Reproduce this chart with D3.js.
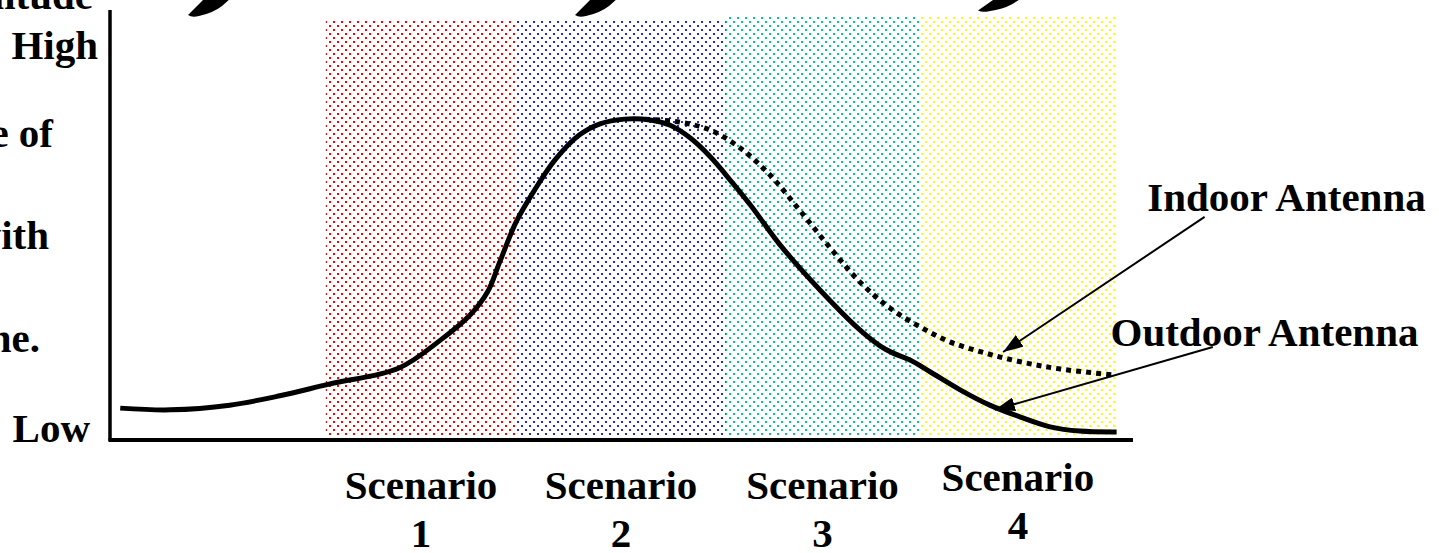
<!DOCTYPE html>
<meta charset="utf-8">
<style>
body { margin: 0; background: #fff; }
svg { display: block; }
text {
  font-family: "Times New Roman", "Liberation Serif", serif;
  font-weight: bold;
  font-size: 41px;
  fill: #000;
}
</style>
<body>
<svg width="1439" height="553"></svg>
</body>
<script src="https://cdn.jsdelivr.net/npm/d3@7"></script>
<script>

// scenario bands (time units 0..100, level 0..100)
var scenarios = ["1", "2", "3", "4"];
var bandStart = [21.1, 39.7, 60.2, 79.1];
var bandEnd = [39.7, 60.2, 79.1, 98.4];
var bandTop = [98.8, 98.8, 99.8, 100];
var bandColor = ["#ff0000", "#2828d8", "#00c896", "#ffff00"];

// outdoor antenna (solid) curve
var outdoorX = [1.0, 5.9, 11.7, 16.6, 21.5, 28.2, 32.3, 35.2, 36.9, 38.1, 39.7, 41.5, 43.5, 45.9, 47.9,
  50.3, 52.8, 54.7, 56.7, 58.7, 60.2, 62.6, 65.5, 69.4, 73.3, 75.3, 76.5, 78.2, 80.2, 83.1, 86.0,
  89.0, 91.9, 94.8, 98.4];
var outdoorY = [7.5, 7.1, 8.2, 10.4, 13.2, 16.9, 23.5, 29.4, 34.8, 41.9, 51.3, 58.8, 65.9, 71.8, 74.4,
  75.5, 75.3, 74.1, 71.1, 66.6, 62.4, 55.3, 45.9, 35.3, 25.9, 22.1, 20.5, 18.8, 16.0, 11.8, 8.2,
  5.4, 3.1, 2.1, 1.9];

// indoor antenna (dotted) curve, splits off after the peak
var indoorX = [52.3, 55.7, 58.7, 61.6, 64.5, 67.4, 70.4, 73.3, 76.2, 79.2, 82.1, 85.5, 89.0, 92.9, 98.2];
var indoorY = [75.5, 74.8, 72.9, 68.7, 62.4, 54.1, 45.2, 37.2, 31.1, 26.6, 23.1, 20.5, 18.4, 16.7, 15.3];

var legendNames = ["Indoor Antenna", "Outdoor Antenna"];
var legendPos = [[101.4, 53.9], [97.8, 22.1]];
var arrowFrom = [[107.0, 52.5], [107.8, 21.9]];
var arrowTo = [[87.3, 20.7], [86.5, 7.1]];

var svg = d3.select("svg");

var x = d3.scaleLinear().domain([0, 100]).range([110, 1133]);
var y = d3.scaleLinear().domain([0, 100]).range([440, 15]);

var defs = svg.append("defs");

// dotted fills, like the old office "25%" pattern
scenarios.forEach(function(s, i) {
  var p = defs.append("pattern")
      .attr("id", "dots" + i)
      .attr("patternUnits", "userSpaceOnUse")
      .attr("width", 8)
      .attr("height", 8);
  p.append("rect").attr("x", 1).attr("y", 1).attr("width", 2).attr("height", 2)
      .attr("fill", bandColor[i]);
  p.append("rect").attr("x", 5).attr("y", 5).attr("width", 2).attr("height", 2)
      .attr("fill", bandColor[i]);
});

defs.append("marker")
    .attr("id", "head")
    .attr("markerUnits", "userSpaceOnUse")
    .attr("viewBox", "0 0 20 14")
    .attr("refX", 20)
    .attr("refY", 7)
    .attr("markerWidth", 20)
    .attr("markerHeight", 14)
    .attr("orient", "auto")
  .append("path")
    .attr("d", "M0,0 L20,7 L0,14 Z")
    .attr("fill", "#000");

svg.append("g")
  .selectAll("rect")
  .data(scenarios)
  .enter().append("rect")
    .attr("x", (d, i) => x(bandStart[i]))
    .attr("width", (d, i) => x(bandEnd[i]) - x(bandStart[i]))
    .attr("y", (d, i) => y(bandTop[i]))
    .attr("height", (d, i) => y(0.7) - y(bandTop[i]))
    .attr("fill", (d, i) => "url(#dots" + i + ")");

// brush strokes cut off at the top edge of the slide
var brush = [[189, 17], [576, 17], [979, 12]];
svg.append("g")
  .selectAll("path")
  .data(brush)
  .enter().append("path")
    .attr("transform", d => "translate(" + d[0] + ",0) scale(1," + (d[1] / 17) + ")")
    .attr("d", "M-1,15 L16,-2 L42,-2 L33,6 Q24,13 10,16 Q3,18 -1,15 Z")
    .attr("fill", "#000");

// axes
svg.append("line")
    .attr("x1", x(0)).attr("x2", x(0))
    .attr("y1", y(0) + 1).attr("y2", 10)
    .attr("stroke", "#000").attr("stroke-width", 3.5);
svg.append("line")
    .attr("x1", x(0) - 1.5).attr("x2", x(100))
    .attr("y1", y(0)).attr("y2", y(0))
    .attr("stroke", "#000").attr("stroke-width", 4);

var line = d3.line()
    .x(d => x(d[0]))
    .y(d => y(d[1]))
    .curve(d3.curveCatmullRom.alpha(0.5));

svg.append("path")
    .datum(indoorX.map((v, i) => [v, indoorY[i]]))
    .attr("d", line)
    .attr("fill", "none")
    .attr("stroke", "#000")
    .attr("stroke-width", 5)
    .attr("stroke-dasharray", "5,5");

svg.append("path")
    .datum(outdoorX.map((v, i) => [v, outdoorY[i]]))
    .attr("d", line)
    .attr("fill", "none")
    .attr("stroke", "#000")
    .attr("stroke-width", 5)
    .attr("stroke-linecap", "butt");

svg.append("g")
  .selectAll("line")
  .data(legendNames)
  .enter().append("line")
    .attr("x1", (d, i) => x(arrowFrom[i][0]))
    .attr("y1", (d, i) => y(arrowFrom[i][1]))
    .attr("x2", (d, i) => x(arrowTo[i][0]))
    .attr("y2", (d, i) => y(arrowTo[i][1]))
    .attr("stroke", "#000")
    .attr("stroke-width", 2)
    .attr("marker-end", "url(#head)");

svg.append("g")
  .selectAll("text")
  .data(legendNames)
  .enter().append("text")
    .attr("x", (d, i) => x(legendPos[i][0]))
    .attr("y", (d, i) => y(legendPos[i][1]))
    .text(d => d);

// scenario labels under the axis
var lab = svg.append("g")
  .selectAll("text")
  .data(scenarios)
  .enter().append("text")
    .attr("text-anchor", "middle")
    .attr("transform", (d, i) => "translate(" + x((bandStart[i] + bandEnd[i]) / 2) + "," + (i == 3 ? -8 : 0) + ")");
lab.append("tspan").attr("x", 0).attr("y", y(0) + 59).text("Scenario");
lab.append("tspan").attr("x", 0).attr("y", y(0) + 107).text(d => d);

// vertical axis caption, left part is off the page
var leftLines = ["Magnitude", "High", "Rate of", "with", "ne.", "Low"];
var leftEnd = [93, 98, 53, 49, 40, 90];
var leftBase = [9, 59, 147, 249, 352, 442];
svg.append("g")
  .selectAll("text")
  .data(leftLines)
  .enter().append("text")
    .attr("text-anchor", "end")
    .attr("x", (d, i) => leftEnd[i])
    .attr("y", (d, i) => leftBase[i])
    .text(d => d);

</script>
